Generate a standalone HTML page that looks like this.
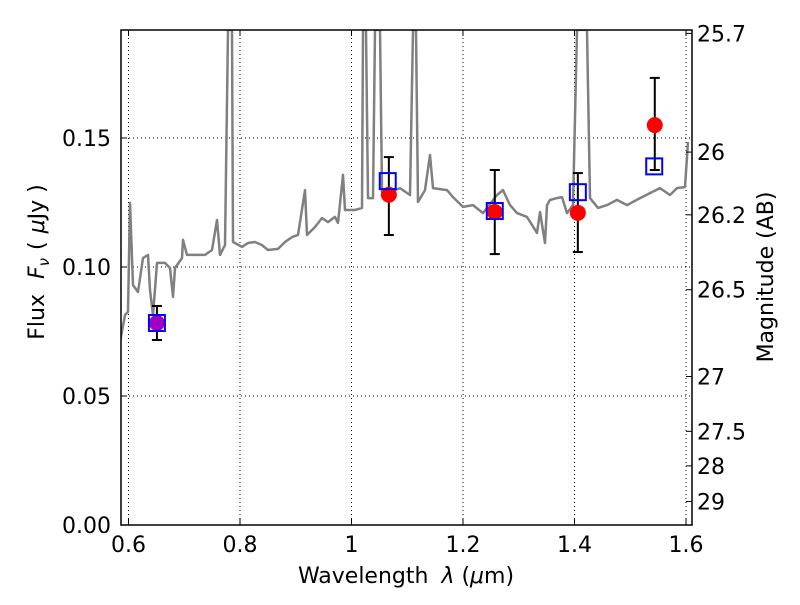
<!DOCTYPE html>
<html><head><meta charset="utf-8"><style>
body{margin:0;background:#fff}
svg text{font-family:"DejaVu Sans","Liberation Sans",sans-serif;fill:#000}
</style></head><body>
<svg id="c" width="800" height="600" viewBox="0 0 800 600" xmlns="http://www.w3.org/2000/svg"></svg>
<script>
const specPx = [[120,342],[125,315],[128,312],[130,203],[133,285],[138,292],[143,258],[148,255],[150,290],[153,315],[157,263],[165,263],[170,268],[173,297],[175,268],[182,258],[183,240],[187,255],[195,255],[205,255],[212,250],[217,220],[220,255],[225,245],[228,30],[232,30],[233,242],[242,247],[248,243],[255,242],[262,245],[268,250],[278,249],[285,242],[292,237],[298,235],[305,190],[307,235],[315,227],[322,218],[328,222],[335,217],[338,223],[343,175],[345,210],[355,210],[362,208],[363,30],[366,30],[368,198],[373,198],[375,30],[380,30],[382,192],[395,190],[400,188],[410,195],[413,30],[416,30],[418,202],[425,190],[430,155],[433,188],[447,190],[453,197],[463,207],[473,205],[483,213],[497,195],[503,190],[510,205],[517,213],[527,217],[537,233],[540,212],[545,243],[547,205],[550,200],[557,198],[562,197],[567,213],[573,205],[577,30],[587,30],[590,198],[598,208],[607,205],[617,200],[627,205],[640,198],[660,188],[670,195],[677,188],[685,187],[688,142]];
const specWl = specPx.map(p => +(0.6 + (p[0] - 128.5) / 557.5).toFixed(4));
const specFlux = specPx.map(p => +((525 - p[1]) / 2580).toFixed(4));
const obsWl = [0.651, 1.067, 1.257, 1.406, 1.544];
const obsFlux = [0.0783, 0.128, 0.1213, 0.121, 0.155];
const obsLo = [0.0717, 0.1124, 0.105, 0.1058, 0.1376];
const obsHi = [0.0849, 0.1426, 0.1376, 0.1364, 0.1733];
const obsColor = ['#a000c0','red','red','red','red'];
const modWl = [0.651, 1.065, 1.257, 1.406, 1.543];
const modFlux = [0.0783, 0.1333, 0.1217, 0.129, 0.139];
const xTicks = [0.6, 0.8, 1.0, 1.2, 1.4, 1.6];
const xTickLabels = ['0.6','0.8','1','1.2','1.4','1.6'];
const yTicks = [0, 0.05, 0.10, 0.15];
const yTickLabels = ['0.00','0.05','0.10','0.15'];
const magTicks = [25.7, 26, 26.2, 26.5, 27, 27.5, 28, 29];
const magTickLabels = ['25.7','26','26.2','26.5','27','27.5','28','29'];

const L=121,R=692,T=30,B=525;
const X = w => 128.5 + (w - 0.6) * 557.5;
const Y = f => 525 - f * 2580;
const svg = document.getElementById('c');
const NS='http://www.w3.org/2000/svg';
function mk(tag, attrs, parent){const e=document.createElementNS(NS,tag);for(const k in attrs)e.setAttribute(k,attrs[k]);(parent||svg).appendChild(e);return e;}
const defs=mk('defs',{});const cp=mk('clipPath',{id:'clip'},defs);mk('rect',{x:L,y:T,width:R-L,height:B-T},cp);

xTicks.forEach(t=>{const g=mk('line',{x1:X(t),x2:X(t),y1:T,y2:B,stroke:'#000','stroke-width':1,'stroke-dasharray':'1,3'});

});
yTicks.forEach(t=>{const g=mk('line',{x1:L,x2:R,y1:Y(t),y2:Y(t),stroke:'#000','stroke-width':1,'stroke-dasharray':'1,3'});

});

const pts = specWl.map((w,i)=>X(w).toFixed(1)+','+Y(specFlux[i]).toFixed(1)).join(' ');
const sp=mk('polyline',{points:pts,fill:'none',stroke:'#808080','stroke-width':2.5,'stroke-linejoin':'round','clip-path':'url(#clip)'});



obsWl.forEach((w,i)=>{
 const x=X(w);
 const g=mk('g',{});
 
 
 mk('line',{x1:x,x2:x,y1:Y(obsLo[i]),y2:Y(obsHi[i]),stroke:'#000','stroke-width':2},g);
 mk('line',{x1:x-5,x2:x+5,y1:Y(obsLo[i]),y2:Y(obsLo[i]),stroke:'#000','stroke-width':2},g);
 mk('line',{x1:x-5,x2:x+5,y1:Y(obsHi[i]),y2:Y(obsHi[i]),stroke:'#000','stroke-width':2},g);
 mk('circle',{cx:x,cy:Y(obsFlux[i]),r:8,fill:obsColor[i]},g);
});
modWl.forEach((w,i)=>{
 const s=mk('rect',{x:X(w)-8,y:Y(modFlux[i])-8,width:16,height:16,fill:'none',stroke:'#0000ff','stroke-width':2});
 
 
});

const fr=mk('rect',{x:L,y:T,width:R-L,height:B-T,fill:'none',stroke:'#000','stroke-width':1.5});



xTicks.forEach((t,i)=>{
 mk('line',{x1:X(t),x2:X(t),y1:B,y2:B-6,stroke:'#000'});
 mk('line',{x1:X(t),x2:X(t),y1:T,y2:T+6,stroke:'#000'});
 const tx=mk('text',{x:X(t),y:B+27,'text-anchor':'middle','font-size':22});
 tx.textContent=xTickLabels[i];
 
 
});
yTicks.forEach((t,i)=>{
 mk('line',{x1:L,x2:L+6,y1:Y(t),y2:Y(t),stroke:'#000'});
 const tx=mk('text',{x:L-10,y:Y(t)+8,'text-anchor':'end','font-size':22});
 tx.textContent=yTickLabels[i];
 
 
});
magTicks.forEach((m,i)=>{
 const y=Y(Math.pow(10,(23.9-m)/2.5));
 mk('line',{x1:R,x2:R-6,y1:y,y2:y,stroke:'#000'});
 const tx=mk('text',{x:R+5,y:y+8,'text-anchor':'start','font-size':22});
 tx.textContent=magTickLabels[i];
 
 
});

const xt=mk('text',{x:406,y:583,'text-anchor':'middle','font-size':22});
xt.innerHTML='Wavelength <tspan font-style="italic" dx="6">λ</tspan> (<tspan font-style="italic">μ</tspan>m)';


const yt=mk('text',{x:0,y:0,'text-anchor':'middle','font-size':22,transform:'translate(44,262) rotate(-90)'});
yt.innerHTML='Flux <tspan font-style="italic" dx="8">F</tspan><tspan font-style="italic" font-size="15" dy="5">ν</tspan><tspan dy="-5" dx="8">(</tspan><tspan font-style="italic" dx="8">μ</tspan>Jy )';


const rt=mk('text',{x:0,y:0,'text-anchor':'middle','font-size':22,transform:'translate(773,277) rotate(-90)'});
rt.textContent='Magnitude (AB)';


</script>
</body></html>
